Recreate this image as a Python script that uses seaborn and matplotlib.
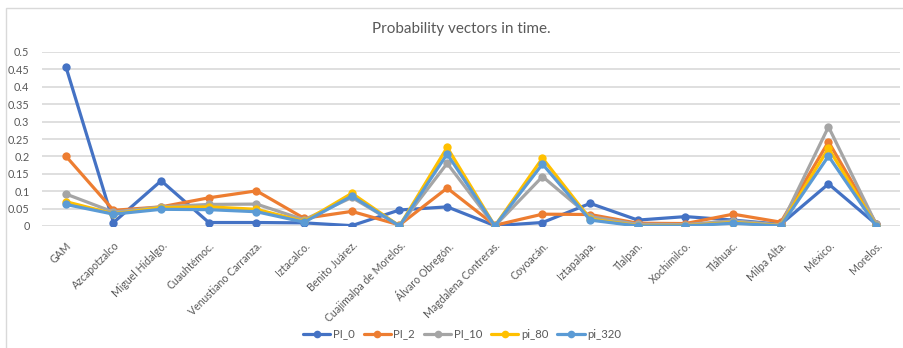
import matplotlib
matplotlib.use("Agg")
import matplotlib.pyplot as plt
from matplotlib.patches import Rectangle
from matplotlib.lines import Line2D
import seaborn as sns
import pandas as pd

# Boroughs / regions along the x axis
categories = [
    "GAM", "Azcapotzalco", "Miguel Hidalgo.", "Cuauhtémoc.", "Venustiano Carranza.",
    "Iztacalco.", "Benito Juárez.", "Cuajimalpa de Morelos.", "Álvaro Obregón.",
    "Magdalena Contreras.", "Coyoacán.", "Iztapalapa.", "Tlalpan.", "Xochimilco.",
    "Tláhuac.", "Milpa Alta.", "México.", "Morelos.",
]

series_names = ["PI_0", "PI_2", "PI_10", "pi_80", "pi_320"]

pi_0 = [0.458, 0.010, 0.130, 0.010, 0.010, 0.009, 0.001, 0.046, 0.055, 0.001,
        0.010, 0.065, 0.017, 0.027, 0.017, 0.005, 0.121, 0.005]
pi_2 = [0.201, 0.045, 0.055, 0.081, 0.101, 0.022, 0.042, 0.003, 0.109, 0.002,
        0.034, 0.033, 0.008, 0.007, 0.034, 0.011, 0.242, 0.007]
pi_10 = [0.092, 0.040, 0.055, 0.062, 0.063, 0.018, 0.082, 0.001, 0.180, 0.000,
         0.142, 0.027, 0.005, 0.004, 0.015, 0.003, 0.285, 0.005]
pi_80 = [0.070, 0.035, 0.053, 0.055, 0.048, 0.013, 0.094, 0.000, 0.226, 0.000,
         0.195, 0.020, 0.001, 0.001, 0.010, 0.001, 0.223, 0.001]
pi_320 = [0.062, 0.034, 0.048, 0.047, 0.041, 0.011, 0.086, 0.000, 0.207, 0.000,
          0.178, 0.017, 0.000, 0.000, 0.008, 0.000, 0.201, 0.000]

y_ticks = [0, 0.05, 0.1, 0.15, 0.2, 0.25, 0.3, 0.35, 0.4, 0.45, 0.5]

colors = ["#4472C4", "#ED7D31", "#A5A5A5", "#FFC000", "#5B9BD5"]

# Long-form table for seaborn
values = [pi_0, pi_2, pi_10, pi_80, pi_320]
rows = []
for name, vals in zip(series_names, values):
    for i, v in enumerate(vals):
        rows.append({"pos": i, "region": categories[i], "series": name, "value": v})
df = pd.DataFrame(rows)

sns.set_theme(style="white")
plt.rcParams["font.family"] = ["Lato", "DejaVu Sans"]

fig = plt.figure(figsize=(9.04, 3.48), dpi=100)
W, H = 904, 348
ax = fig.add_axes([42 / W, 1 - 226 / H, (900 - 42) / W, (226 - 52) / H])

sns.lineplot(
    data=df, x="pos", y="value", hue="series", hue_order=series_names,
    palette=colors, marker="o", markersize=6, markeredgewidth=0,
    linewidth=2.3, sort=False, legend=False, ax=ax,
)

ax.set_xlim(-0.5, len(categories) - 0.5)
ax.set_ylim(0, 0.5)
ax.set_yticks(y_ticks)
ax.set_yticklabels([f"{v:g}" for v in y_ticks])
ax.set_xticks(range(len(categories)))
ax.set_xticklabels(categories, rotation=45, ha="right", va="top",
                   rotation_mode="anchor")
ax.tick_params(axis="x", length=0, pad=10, labelsize=7.6, colors="#595959")
ax.tick_params(axis="y", length=0, pad=9, labelsize=7.8, colors="#595959")
ax.set_xlabel("")
ax.set_ylabel("")
ax.grid(axis="y", color="#D9D9D9", linewidth=1.2)
ax.set_axisbelow(True)
for s in ax.spines.values():
    s.set_visible(False)

fig.text(461 / W, 1 - 29 / H, "Probability vectors in time.", fontsize=11,
         color="#595959", ha="center", va="center")

# Chart frame
fig.patches.append(Rectangle((6 / W, -0.05), 1.0, 1 - 8 / H + 0.05,
                             transform=fig.transFigure, fill=False,
                             edgecolor="#D9D9D9", linewidth=1.0))

handles = [Line2D([0], [0], color=c, linewidth=2.3, marker="o", markersize=5.5,
                  markeredgewidth=0) for c in colors]
fig.legend(handles, series_names, loc="center", bbox_to_anchor=(462 / W, 1 - 334 / H),
           ncol=5, frameon=False, fontsize=8.2, labelcolor="#595959",
           handlelength=2.4, handletextpad=0.2, columnspacing=0.8)

fig.savefig("out.png", dpi=100, facecolor="white")
